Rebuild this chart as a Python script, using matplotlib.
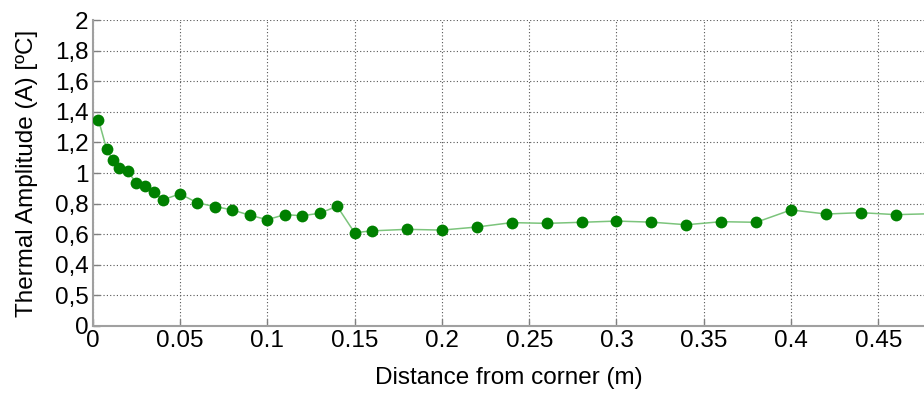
import matplotlib
matplotlib.use("Agg")
import matplotlib.pyplot as plt

# Data
distance = [0.0033, 0.008, 0.0115, 0.015, 0.02, 0.025, 0.03, 0.035, 0.04,
            0.05, 0.06, 0.07, 0.08, 0.09, 0.10, 0.11, 0.12, 0.13, 0.14, 0.15, 0.16,
            0.18, 0.20, 0.22, 0.24, 0.26, 0.28, 0.30, 0.32, 0.34, 0.36, 0.38,
            0.40, 0.42, 0.44, 0.46, 0.48]
amplitude = [1.349, 1.156, 1.086, 1.031, 1.013, 0.934, 0.914, 0.879, 0.824,
             0.864, 0.805, 0.781, 0.759, 0.724, 0.695, 0.728, 0.721, 0.737, 0.783,
             0.610, 0.622, 0.632, 0.627, 0.647, 0.676, 0.671, 0.678, 0.686, 0.679,
             0.662, 0.682, 0.678, 0.759, 0.732, 0.741, 0.728, 0.734]

x_ticks = [0, 0.05, 0.1, 0.15, 0.2, 0.25, 0.3, 0.35, 0.4, 0.45]
x_tick_labels = ['0', '0.05', '0.1', '0.15', '0.2', '0.25', '0.3', '0.35', '0.4', '0.45']
y_ticks = [0, 0.2, 0.4, 0.6, 0.8, 1.0, 1.2, 1.4, 1.6, 1.8, 2.0]
y_tick_labels = ['0', '0,5', '0,4', '0,6', '0,8', '1', '1,2', '1,4', '1,6', '1,8', '2']

plt.rcParams['font.family'] = ['Liberation Sans', 'DejaVu Sans']

fig = plt.figure(figsize=(9.24, 3.94), dpi=100)
ax = fig.add_axes([0.1003, 0.1726, 0.8997, 0.949 - 0.1726])

ax.plot(distance, amplitude, color='#7cc47c', linewidth=1.1, zorder=3)
ax.plot(distance, amplitude, linestyle='none', marker='o', markersize=8.5,
        color='#008000', markeredgewidth=0, zorder=4)

ax.set_xlim(0, (924 - 92.7) / 1746)
ax.set_ylim(0, 2)
ax.set_xticks(x_ticks)
ax.set_xticklabels(x_tick_labels)
ax.set_yticks(y_ticks)
ax.set_yticklabels(y_tick_labels)

ax.grid(True, color='#555555', linestyle=(0, (1, 2)), linewidth=0.8, zorder=1)
ax.set_axisbelow(True)

for side in ['top', 'right']:
    ax.spines[side].set_visible(False)
for side in ['left', 'bottom']:
    ax.spines[side].set_color('#a0a0a0')
    ax.spines[side].set_linewidth(1.5)

ax.tick_params(direction='in', length=5, width=1, color='#808080',
               labelsize=17.5, pad=3, labelcolor='black')

ax.set_xlabel('Distance from corner (m)', fontsize=17.5, labelpad=11)
ax.set_ylabel('Thermal Amplitude (A) [ºC]', fontsize=17.5, labelpad=12)

fig.savefig('out.png', dpi=100)
